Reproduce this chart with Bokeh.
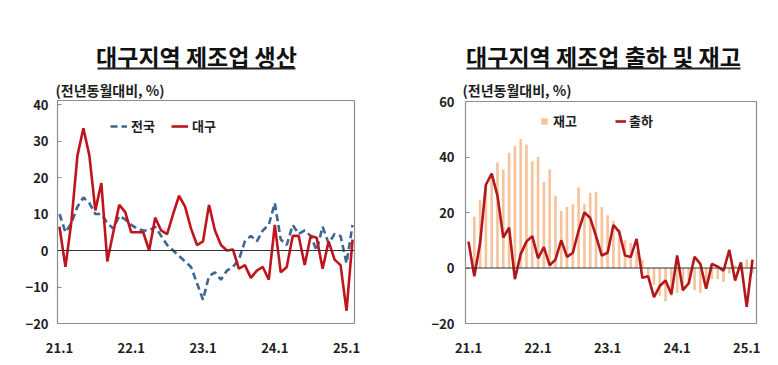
from bokeh.plotting import figure
from bokeh.models import (Range1d, FixedTicker, Span, Label, BoxAnnotation,
                          Legend, LegendItem, ColumnDataSource, Title)
from bokeh.layouts import row, column
from bokeh.embed import file_html
from bokeh.resources import INLINE

# ---------------- data ----------------
months = list(range(50))          # 2021.01 ... 2025.02
tick_pos = [0, 12, 24, 36, 48]
tick_labels = ["21.1", "22.1", "23.1", "24.1", "25.1"]

# 대구지역 제조업 생산 (전년동월대비, %)
daegu_prod = [6.5, -4.5, 8, 26, 33.5, 26, 11, 18.5, -3, 5,
              12.5, 10.5, 5, 5, 5, 0, 9, 5.5, 4.5, 10,
              15, 12, 6, 1.5, 2.5, 12.5, 5.5, 1.5, 0, 0.3,
              -5, -4, -7.5, -5.5, -4.5, -8, 7, -6, -4.5, 4,
              4, -4, 4, 3.5, -5, 2.5, -2.5, -4, -16.5, 3]
nation_prod = [10, 5, 7.5, 12, 14.5, 13, 10, 10, 7.5, 6,
               9.5, 8.5, 7, 6, 5.5, 5.5, 6.5, 4, 1.5, 0,
               -1.5, -3, -4.5, -9, -13.5, -7, -6, -8, -5.5, -4.5,
               -2.5, 2.5, 4, 2.5, 5.5, 7, 13, 3, 1.5, 7,
               4.5, 5.5, 4, 0, 6.5, 2, 4.5, 4, -3.5, 7]

# 대구지역 제조업 출하 및 재고 (전년동월대비, %)
shipment = [9.5, -3, 9, 30, 34, 26, 11, 14.5, -4, 5,
            9.5, 11.5, 3.5, 7.5, 1, 3, 10, 4, 5.5, 13.5,
            20, 18, 11.5, 4.5, 5.5, 15.5, 13, 4.5, 4, 10.5,
            -3.5, -3, -10.5, -6.5, -4.5, -9.5, 4.5, -8, -5.5, 4,
            1.5, -7.5, 1.5, 0.5, -1, 6.5, -4.5, 2, -14, 3]
inventory = [float("nan"), 18.5, 24.5, 30, 33, 38, 35.5, 41.5, 44, 46.5,
             44.5, 38.5, 40, 31, 35.5, 26, 20.5, 22, 23, 29,
             23, 27, 27.5, 22, 19, 17, 14, 10, 9, 6,
             3, -3, -6, -10, -12, -10, -9, -8, -6, -8,
             -9, -6, -4, -4, -5, -2, 1, -1, 3, -2]

title_left = "대구지역 제조업 생산"
title_right = "대구지역 제조업 출하 및 재고"
unit_text = "(전년동월대비, %)"

FONT = "Noto Sans CJK KR"
RED = "#C0141C"
RED2 = "#B3171B"
BLUE = "#3D6695"
PEACH = "#F6C39B"
FRAME = "#8E8E8E"
TEXT = "#1e1e1e"
TITLE_H = 76
CHART_H = 288


def title_fig(width, fx0, fx1, title, cx, ul_l, ul_r):
    # frame of this figure is aligned (by the column layout) with the chart frame
    t = figure(width=width, height=TITLE_H, output_backend="svg",
               toolbar_location=None, x_axis_type=None, y_axis_type=None,
               x_range=Range1d(fx0, fx1), y_range=Range1d(TITLE_H, 0),
               min_border=0)
    t.outline_line_color = None
    t.grid.visible = False
    t.add_layout(Label(x=cx, y=55, text=title, text_font=FONT,
                       text_font_style="bold", text_font_size="23px",
                       text_align="center", text_baseline="middle",
                       text_color="#111111"))
    t.add_layout(BoxAnnotation(left=ul_l, right=ul_r, top=67, bottom=69,
                               fill_color="#222222", fill_alpha=1,
                               line_color=None))
    return t


def base_fig(width, bl, br, xr, yr, yticks, sub_offset, sub_standoff):
    p = figure(width=width, height=CHART_H, output_backend="svg",
               toolbar_location=None, x_range=xr, y_range=yr,
               min_border_left=bl, min_border_right=br,
               min_border_top=24, min_border_bottom=41)
    p.add_layout(Title(text=unit_text, align="left", offset=sub_offset,
                       standoff=sub_standoff, text_font=FONT,
                       text_font_style="bold", text_font_size="14px",
                       text_color=TEXT), "above")
    p.background_fill_color = "white"
    p.border_fill_color = "white"
    p.outline_line_color = FRAME
    p.outline_line_width = 1.2
    p.grid.visible = False
    p.xaxis.ticker = FixedTicker(ticks=tick_pos)
    p.xaxis.major_label_overrides = {t: l for t, l in zip(tick_pos, tick_labels)}
    p.yaxis.ticker = FixedTicker(ticks=yticks)
    for ax in (p.xaxis[0], p.yaxis[0]):
        ax.axis_line_color = None
        ax.minor_tick_line_color = None
        ax.major_label_text_font = FONT
        ax.major_label_text_font_style = "bold"
        ax.major_label_text_font_size = "13px"
        ax.major_label_text_color = TEXT
    p.xaxis.major_tick_line_color = None
    p.xaxis.major_label_standoff = 13
    p.yaxis.major_tick_in = 4
    p.yaxis.major_tick_out = 0
    p.yaxis.major_tick_line_color = FRAME
    p.add_layout(Span(location=0, dimension="width", line_color="#333333",
                      line_width=1))
    return p


legend_style = dict(orientation="horizontal", padding=0, margin=0,
                    background_fill_alpha=0, border_line_color=None,
                    label_text_font=FONT, label_text_font_style="bold",
                    label_text_font_size="13px", label_text_color=TEXT,
                    label_height=16)

# ---------------- left chart ----------------
t1 = title_fig(398, 57, 354, title_left, 196, 97, 295)
src1 = ColumnDataSource(dict(m=months, dg=daegu_prod, nt=nation_prod))
p1 = base_fig(398, 57, 44, Range1d(-0.33, 49.33), Range1d(-20, 41.1),
              [-20, -10, 0, 10, 20, 30, 40], -2, 1)
p1.yaxis.major_label_standoff = 9
r_nt = p1.line("m", "nt", source=src1, line_color=BLUE, line_width=2.6,
               line_dash="7 4")
r_dg = p1.line("m", "dg", source=src1, line_color=RED, line_width=2.6)
leg1 = Legend(items=[LegendItem(label="전국", renderers=[r_nt]),
                     LegendItem(label="대구", renderers=[r_dg])],
              location=(53, 188), glyph_width=17, glyph_height=16,
              label_standoff=4, spacing=16, **legend_style)
p1.add_layout(leg1, "center")

# ---------------- right chart ----------------
t2 = title_fig(379, 465, 756, title_right, 603, 466, 740)
src2 = ColumnDataSource(dict(m=months, sh=shipment, inv=inventory))
p2 = base_fig(379, 67, 21, Range1d(-0.52, 49.69), Range1d(-20, 60),
              [-20, 0, 20, 40, 60], -3, 3)
p2.yaxis.major_label_standoff = 11
r_inv = p2.vbar(x="m", top="inv", bottom=0, width=0.45, source=src2,
                fill_color=PEACH, line_color=None)
r_sh = p2.line("m", "sh", source=src2, line_color=RED2, line_width=2.6)
leg2a = Legend(items=[LegendItem(label="재고", renderers=[r_inv])],
               location=(75, 193), glyph_width=8, glyph_height=8,
               label_standoff=5, **legend_style)
leg2b = Legend(items=[LegendItem(label="출하", renderers=[r_sh])],
               location=(150, 193), glyph_width=11, glyph_height=16,
               label_standoff=3, **legend_style)
p2.add_layout(leg2a, "center")
p2.add_layout(leg2b, "center")

layout = row(column(t1, p1, spacing=0), column(t2, p2, spacing=0), spacing=0)
open("out.html", "w").write(file_html(layout, INLINE))
